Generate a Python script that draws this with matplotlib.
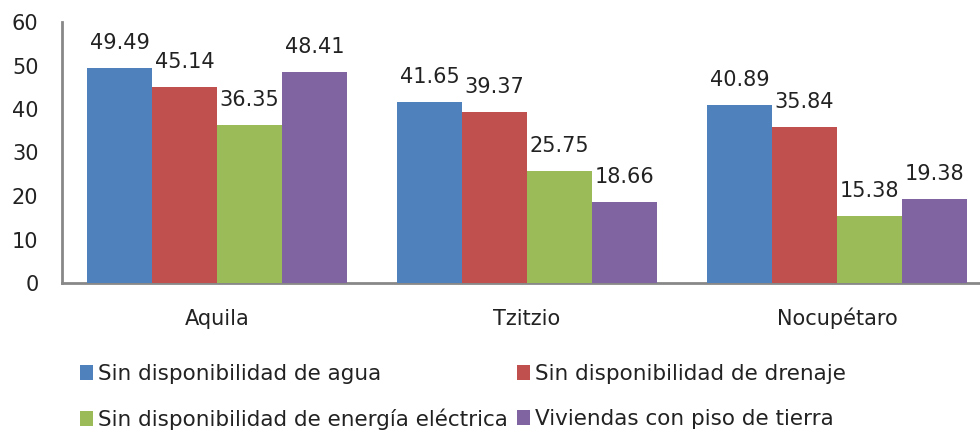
import numpy as np
import matplotlib.pyplot as plt

municipios = ['Aquila', 'Tzitzio', 'Nocupétaro']
series = ['Sin disponibilidad de agua', 'Sin disponibilidad de drenaje',
          'Sin disponibilidad de energía eléctrica', 'Viviendas con piso de tierra']
agua = [49.49, 41.65, 40.89]
drenaje = [45.14, 39.37, 35.84]
energia = [36.35, 25.75, 15.38]
piso = [48.41, 18.66, 19.38]
colores = ['#4F81BD', '#C0504D', '#9BBB59', '#8064A2']

valores = [agua, drenaje, energia, piso]

fig = plt.figure(figsize=(9.8, 4.32), dpi=100)
ax = fig.add_axes([62/980, 149/432, 930/980, 261/432])

x = np.arange(len(municipios))
w = 65/310
barras = []
for i, (vals, col) in enumerate(zip(valores, colores)):
    b = ax.bar(x + (i - 1.5)*w, vals, width=w, color=col, label=series[i])
    barras.append(b)
    for xi, v in zip(x + (i - 1.5)*w, vals):
        ax.annotate(f'{v:.2f}', (xi, v), xytext=(0, 19), textcoords='offset pixels',
                    ha='center', va='baseline', fontsize=15, color='#222222')

ax.set_xlim(-0.5, 2.5)
ax.set_ylim(0, 60)
ax.set_yticks(range(0, 61, 10))
ax.set_xticks(x)
ax.set_xticklabels(municipios, va='baseline')
ax.tick_params(axis='y', length=0, pad=17, labelsize=15, labelcolor='#222222')
ax.tick_params(axis='x', length=0, pad=30, labelsize=15, labelcolor='#222222')
for s in ['top', 'right']:
    ax.spines[s].set_visible(False)
for s in ['left', 'bottom']:
    ax.spines[s].set_color('#888888')
    ax.spines[s].set_linewidth(2)
ax.spines['bottom'].set_zorder(0)

# leyenda, una entrada por posicion
pos = [(80, 374), (517, 374), (80, 419), (517, 419)]
for b, lab, (px, py) in zip(barras, series, pos):
    fig.legend([b], [lab], loc='center left', bbox_to_anchor=(px/980, 1 - py/432),
               frameon=False, fontsize=15.5, handlelength=0.6, handleheight=0.7,
               handletextpad=0.23, borderaxespad=0, borderpad=0, labelcolor='#222222')

fig.savefig('out.png', dpi=100)
